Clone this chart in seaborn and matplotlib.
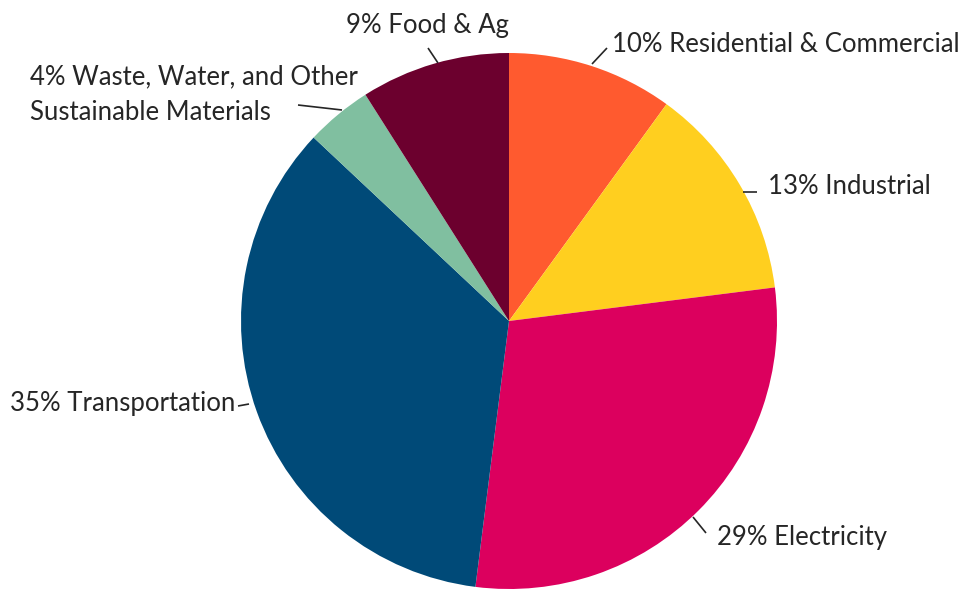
import matplotlib
matplotlib.use("Agg")
import matplotlib.pyplot as plt
import seaborn as sns

# Emissions share by sector, clockwise from 12 o'clock
sectors = ["Residential & Commercial", "Industrial", "Electricity",
           "Transportation", "Waste, Water, and Other\nSustainable Materials",
           "Food & Ag"]
shares = [10, 13, 29, 35, 4, 9]
colors = ["#FF5A2F", "#FFCF1F", "#DC005E", "#004A78", "#80BFA0", "#6C002E"]

sns.set_theme(style="white")
plt.rcParams["font.family"] = ["Lato", "DejaVu Sans"]

W, H = 961, 589
fig = plt.figure(figsize=(W / 100, H / 100), dpi=100)
ax = fig.add_axes([0, 0, 1, 1])

cx, cy, r = 509, H - 321, 268
ax.pie(shares, colors=sns.color_palette(colors), startangle=90,
       counterclock=False, center=(cx, cy), radius=r,
       wedgeprops=dict(linewidth=0), frame=True)
ax.set_xlim(0, W)
ax.set_ylim(0, H)
ax.set_aspect("equal")
ax.axis("off")

# label text position (pixel coords, y down), alignment, leader line
label_layout = [
    ((612, 45), "left", "center", ((592, 64), (607, 48))),
    ((768, 187), "left", "center", ((743, 192), (757, 192))),
    ((717, 537), "left", "center", ((693, 517), (706, 533))),
    ((235, 404), "right", "center", ((238, 406), (249, 404))),
    ((30, 95), "left", "center", ((298, 105), (342, 110))),
    ((428, 25), "center", "center", ((428, 48), (438, 63))),
]

txt_color = "#262626"
for name, val, (pos, ha, va, line) in zip(sectors, shares, label_layout):
    x, y = pos
    ax.text(x, H - y, f"{val}% {name}", ha=ha, va=va, fontsize=18.5,
            color=txt_color, linespacing=1.55)
    (x0, y0), (x1, y1) = line
    ax.plot([x0, x1], [H - y0, H - y1], color=txt_color, lw=1.2,
            solid_capstyle="butt")

fig.savefig("out.png", dpi=100, facecolor="white")
